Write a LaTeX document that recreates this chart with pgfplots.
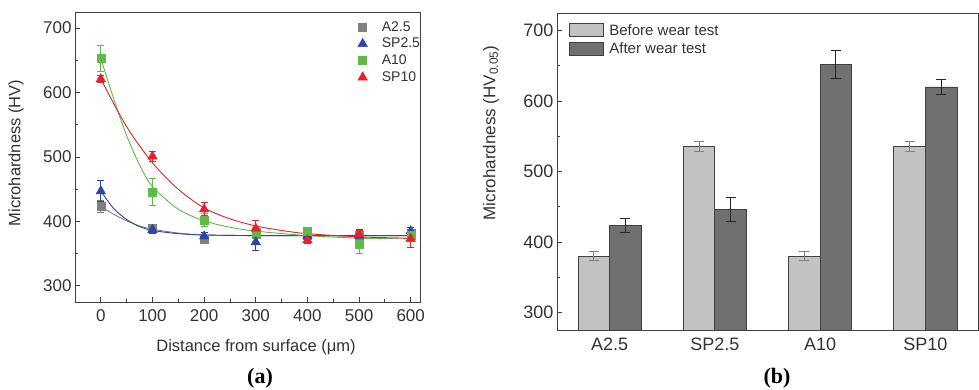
\documentclass[border=0pt]{standalone}
\usepackage{pgfplots}
\pgfplotsset{compat=1.18}
\usepackage{fontspec}
\setmainfont{Liberation Sans}
\newfontfamily\capfont{Liberation Serif}
\definecolor{cgray}{HTML}{808080}
\definecolor{cblue}{HTML}{2B45A8}
\definecolor{cgreen}{HTML}{5DBB46}
\definecolor{cred}{HTML}{E8202A}
\definecolor{before}{HTML}{C2C2C2}
\definecolor{after}{HTML}{707070}
\definecolor{frame}{HTML}{404040}
\begin{document}
\begin{tikzpicture}[x=1pt,y=1pt]
\path[use as bounding box] (0,0) rectangle (979,390);
% ---------------- left panel ----------------
\begin{axis}[at={(75pt,88pt)}, anchor=south west, scale only axis,
  width=345pt, height=290pt,
  xmin=-50, xmax=618, ymin=275, ymax=725,
  xtick={0,100,...,600}, ytick={300,400,...,700},
  minor x tick num=1, minor y tick num=1,
  tick align=inside, xtick pos=left, ytick pos=left,
  major tick length=5pt, minor tick length=3pt,
  axis line style={frame, line width=0.9pt},
  every tick/.style={frame, line width=0.8pt},
  /pgf/number format/assume math mode=true,
  tick label style={font=\fontsize{17}{18}\selectfont, text=frame!80!black},
  xticklabel style={yshift=-4pt},
  legend style={at={(0.795,0.982)}, anchor=north west, draw=none, fill=none,
    font=\fontsize{14}{16}\selectfont, row sep=1.5pt, text=frame!80!black},
  legend cell align=left,
  legend image code/.code={\path (0pt,0pt) (27pt,0pt);\draw[mark repeat=2,mark phase=2,#1] plot coordinates {(0pt,0pt)(10pt,0pt)(20pt,0pt)};},
  error bars/error bar style={line width=0.8pt},
  error bars/error mark options={rotate=90, mark size=3.5pt, line width=0.8pt},
]
% fitted curves
\addplot[cgray, line width=0.9pt, smooth, forget plot] coordinates {(0,423)(25,411)(50,401)(75,393)(100,388)(150,382)(200,379)(300,378)(400,378)(500,378)(600,378)};
\addplot[cblue, line width=0.9pt, smooth, forget plot] coordinates {(0,447)(25,420)(50,403)(75,392)(100,386)(150,381)(200,379)(300,378)(400,378)(500,378)(600,378)};
\addplot[cgreen, line width=0.9pt, smooth, forget plot] coordinates {(0,653)(25,590)(50,533)(75,488)(100,454)(150,419)(200,401)(250,391)(300,385)(400,378)(500,374)(600,373)};
\addplot[cred, line width=0.9pt, smooth, forget plot] coordinates {(0,621)(50,547)(100,491)(150,450)(200,421)(250,404)(300,393)(350,386)(400,381)(500,376)(600,374)};
% data points
\addplot[only marks, mark=square*, mark size=4pt, cgray,
  error bars/.cd, y dir=both, y explicit] coordinates {
  (0,423)+-(0,9) (100,390)+-(0,5) (200,373)+-(0,5) (300,380)+-(0,6) (400,378)+-(0,6) (500,378)+-(0,6) (600,382)+-(0,6)};
\addlegendentry{A2.5}
\addplot[only marks, mark=triangle*, mark size=5.5pt, cblue,
  error bars/.cd, y dir=both, y explicit] coordinates {
  (0,447)+-(0,16) (100,387)+-(0,5) (200,377)+-(0,6) (300,368)+-(0,13) (400,378)+-(0,6) (500,378)+-(0,10) (600,385)+-(0,6)};
\addlegendentry{SP2.5}
\addplot[only marks, mark=square*, mark size=4pt, cgreen,
  error bars/.cd, y dir=both, y explicit] coordinates {
  (0,653)+-(0,20) (100,446)+-(0,21) (200,402)+-(0,10) (300,383)+-(0,8) (400,385)+-(0,5) (500,365)+-(0,15) (600,378)+-(0,8)};
\addlegendentry{A10}
\addplot[only marks, mark=triangle*, mark size=5.5pt, cred,
  error bars/.cd, y dir=both, y explicit] coordinates {
  (0,621)+-(0,6) (100,501)+-(0,8) (200,419)+-(0,10) (300,389)+-(0,13) (400,371)+-(0,5) (500,380)+-(0,6) (600,373)+-(0,13)};
\addlegendentry{SP10}
\end{axis}
% ---------------- right panel ----------------
\begin{axis}[at={(557pt,60pt)}, anchor=south west, scale only axis,
  width=421pt, height=317pt,
  xmin=-0.5, xmax=3.5, ymin=275, ymax=725,
  xtick={0,1,2,3}, xticklabels={A2.5,SP2.5,A10,SP10},
  ytick={300,400,...,700}, minor y tick num=1,
  tick align=inside, xtick pos=left, ytick pos=left,
  major x tick style={draw=none},
  major tick length=5pt, minor tick length=3pt,
  axis line style={frame, line width=0.9pt},
  every tick/.style={frame, line width=0.8pt},
  /pgf/number format/assume math mode=true,
  tick label style={font=\fontsize{18}{19}\selectfont, text=frame!80!black},
  xticklabel style={yshift=-4pt},
  legend style={at={(0.022,0.978)}, anchor=north west, draw=none, fill=none,
    font=\fontsize{15}{18}\selectfont, row sep=2pt, text=frame!80!black},
  legend cell align=left,
  legend image code/.code={\path (0pt,0pt) (37pt,0pt);\draw[#1, draw=frame, line width=0.9pt] (0pt,-6.5pt) rectangle (34pt,6.5pt);},
]
\addplot[ybar, bar width=0.3, bar shift=0pt, fill=before, draw=frame, line width=0.9pt,
  error bars/.cd, y dir=both, y explicit,
  error bar style={gray, line width=0.9pt},
  error mark options={rotate=90, mark size=5pt, gray, line width=0.9pt}] coordinates {
  (-0.15,380)+-(0,6) (0.85,535)+-(0,7) (1.85,380)+-(0,6) (2.85,535)+-(0,7)};
\addlegendentry{Before wear test}
\addplot[ybar, bar width=0.3, bar shift=0pt, fill=after, draw=frame, line width=0.9pt,
  error bars/.cd, y dir=both, y explicit,
  error bar style={black!85, line width=0.9pt},
  error mark options={rotate=90, mark size=5pt, black!85, line width=0.9pt}] coordinates {
  (0.15,423)+-(0,10) (1.15,446)+-(0,17) (2.15,652)+-(0,20) (3.15,620)+-(0,10)};
\addlegendentry{After wear test}
\end{axis}
% labels
\node[text=frame!80!black, font=\fontsize{16.5}{18}\selectfont] at (256,43) {Distance from surface (μm)};
\node[text=frame!80!black, font=\fontsize{16.5}{18}\selectfont, rotate=90] at (16,237) {Microhardness (HV)};
\node[text=frame!80!black, font=\fontsize{17}{19}\selectfont, rotate=90] at (491,257) {Microhardness (HV\textsubscript{0.05})};
\node[font=\capfont\bfseries\fontsize{22}{24}\selectfont] at (260,12) {(a)};
\node[font=\capfont\bfseries\fontsize{22}{24}\selectfont] at (777,12) {(b)};
\end{tikzpicture}
\end{document}
